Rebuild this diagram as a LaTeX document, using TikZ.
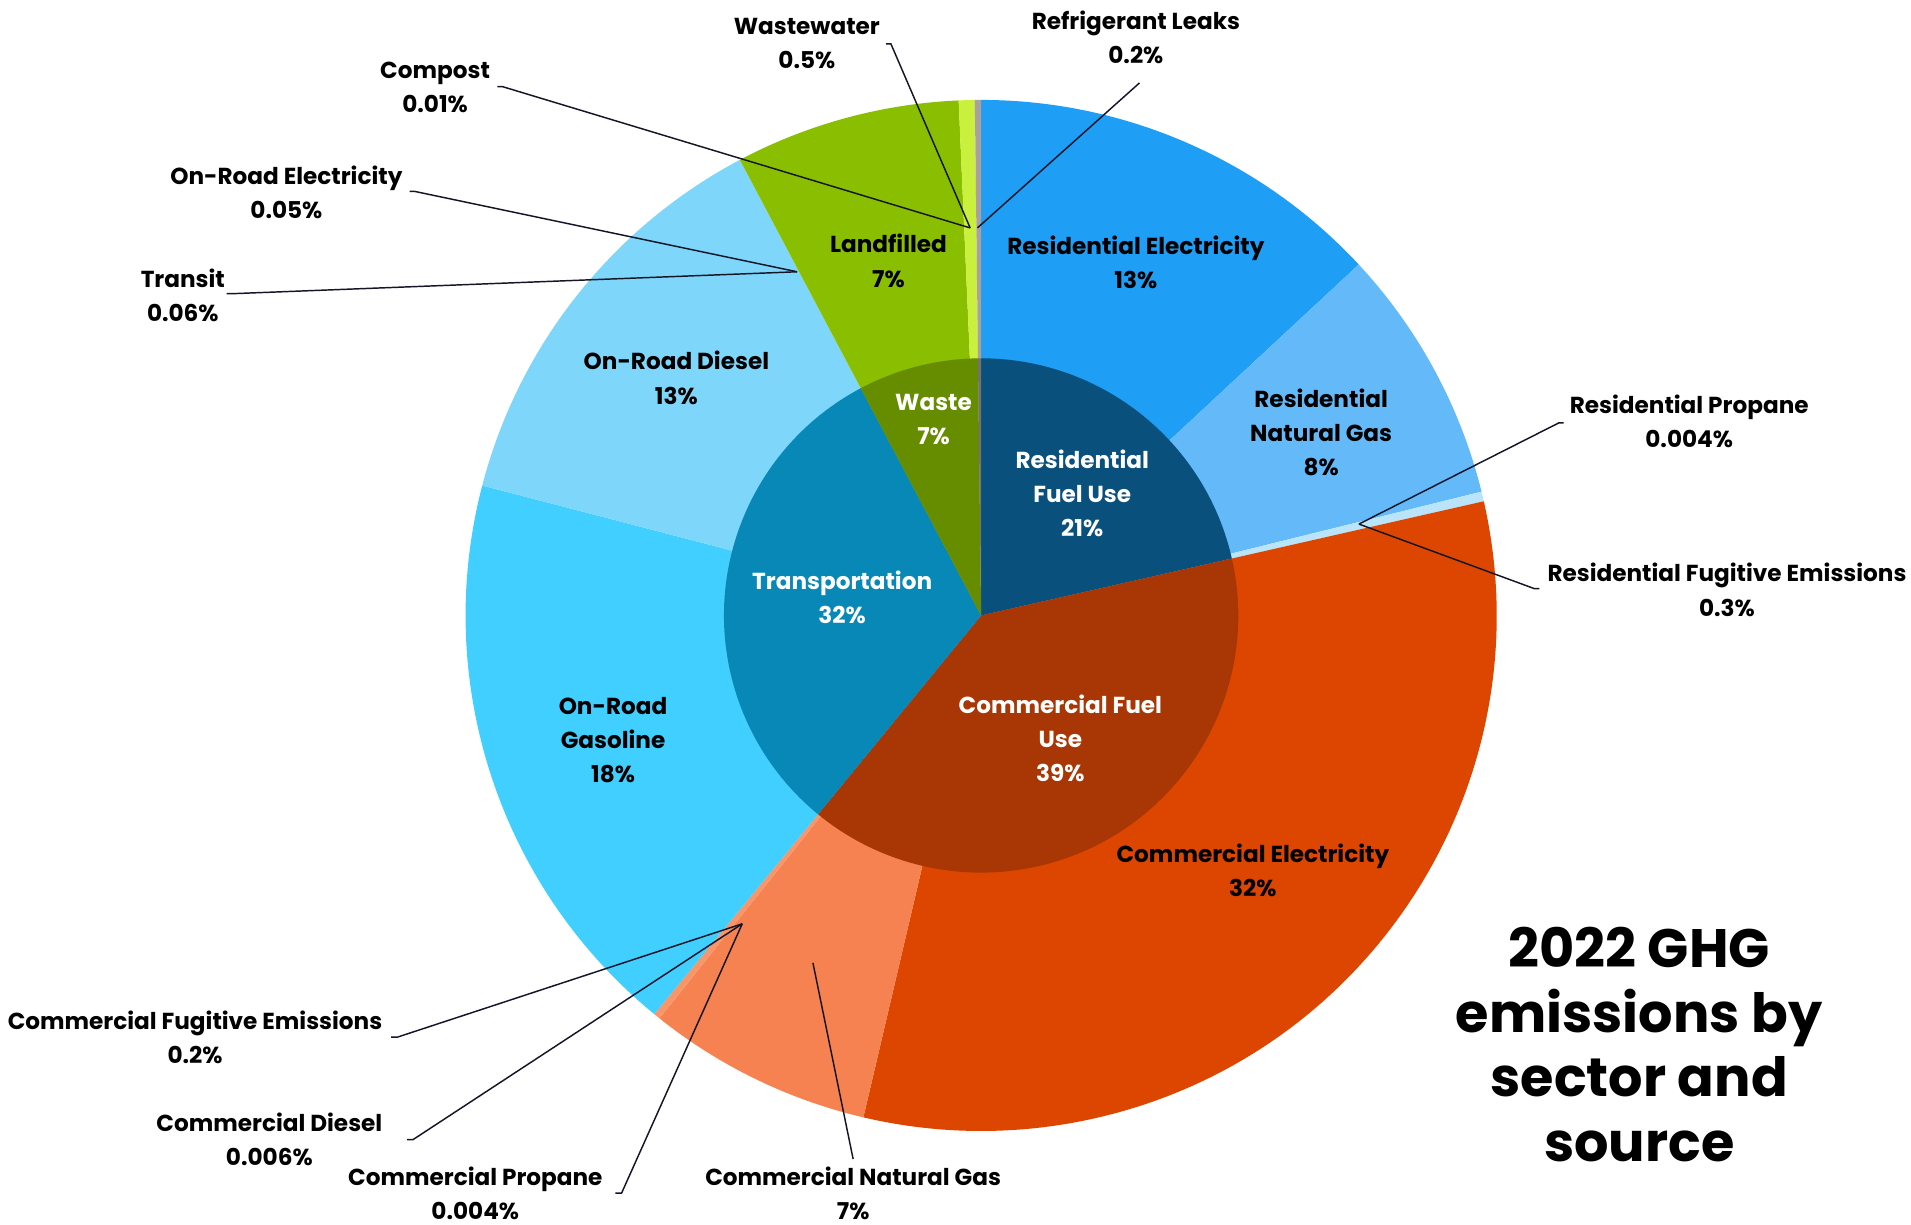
\documentclass[tikz,border=0pt]{standalone}
\usepackage{fontspec}
\setmainfont{Poppins}
\definecolor{resElec}{RGB}{30,158,245}
\definecolor{resNG}{RGB}{100,185,248}
\definecolor{resFug}{RGB}{185,228,250}
\definecolor{comElec}{RGB}{221,70,0}
\definecolor{comNG}{RGB}{245,130,80}
\definecolor{comFug}{RGB}{248,150,105}
\definecolor{gasol}{RGB}{64,207,255}
\definecolor{diesel}{RGB}{126,214,250}
\definecolor{landf}{RGB}{138,190,0}
\definecolor{wastew}{RGB}{200,240,60}
\definecolor{refrig}{RGB}{170,160,160}
\definecolor{resFuel}{RGB}{10,80,125}
\definecolor{comFuel}{RGB}{168,55,5}
\definecolor{transp}{RGB}{8,136,182}
\definecolor{wasteIn}{RGB}{102,140,0}
\definecolor{leadcol}{RGB}{20,22,40}
\newcommand{\pieslice}[4]{%
  \fill[#1] (0,0) -- ({90-#2}:#4) arc[start angle={90-#2}, end angle={90-#3}, radius=#4] -- cycle;}
\begin{document}
\begin{tikzpicture}[x=0.5pt,y=-0.5pt,
  lab/.style={font=\fontsize{9.5}{14}\selectfont\bfseries, align=center, text=black, inner sep=0pt},
  wlab/.style={lab, text=white},
  lead/.style={draw=leadcol, line width=0.6pt},
  ttl/.style={font=\fontsize{22.2}{26.5}\selectfont\bfseries, align=center, text=black, inner sep=0pt}]
\fill[white] (0,0) rectangle (1568,1005);
\useasboundingbox (0,0) rectangle (1568,1005);
% ---------- pie ----------
\begin{scope}[shift={(805,505)}, yscale=-1]
  % outer ring
  \pieslice{resElec}{0}{47.1}{423}
  \pieslice{resNG}{47.1}{76.1}{423}
  \pieslice{resFug}{76.1}{77.2}{423}
  \pieslice{comElec}{77.2}{193.2}{423}
  \pieslice{comNG}{193.2}{218.6}{423}
  \pieslice{comFug}{218.6}{219.35}{423}
  \pieslice{gasol}{219.35}{284.6}{423}
  \pieslice{diesel}{284.6}{332.1}{423}
  \pieslice{landf}{332.1}{357.5}{423}
  \pieslice{wastew}{357.5}{359.3}{423}
  \pieslice{refrig}{359.3}{360}{423}
  % inner ring
  \pieslice{resFuel}{0}{77.2}{211}
  \pieslice{comFuel}{77.2}{219.35}{211}
  \pieslice{transp}{219.35}{332.1}{211}
  \pieslice{wasteIn}{332.1}{359.3}{211}
  \pieslice{refrig!70!black}{359.3}{360}{211}
\end{scope}
% ---------- leader anchor coordinates ----------
\coordinate (pW) at (796,187);
\coordinate (pRf) at (802,187);
\coordinate (pT) at (654,223);
\coordinate (pR) at (1115,430);
\coordinate (pC) at (609,758);
\coordinate (pNG) at (667,790);
\coordinate (sWw) at (727,36);
\coordinate (sRf) at (935,68);
\coordinate (sCo) at (408,71);
\coordinate (sOE) at (336,157);
\coordinate (sTr) at (186,241);
\coordinate (sRP) at (1283,347);
\coordinate (sRF) at (1263,483);
\coordinate (sCF) at (321,851);
\coordinate (sCD) at (334,935);
\coordinate (sCP) at (505,979);
\coordinate (sNG) at (700,951);
% ---------- leaders ----------
\draw[lead] (sWw) -- ++(4,0) -- (pW);
\draw[lead] (sRf) -- (pRf);
\draw[lead] (sCo) -- ++(4,0) -- (pW);
\draw[lead] (sOE) -- ++(4,0) -- (pT);
\draw[lead] (sTr) -- ++(4,0) -- (pT);
\draw[lead] (sRP) -- ++(-4,0) -- (pR);
\draw[lead] (sRF) -- ++(-4,0) -- (pR);
\draw[lead] (sCF) -- ++(5,0) -- (pC);
\draw[lead] (sCD) -- ++(5,0) -- (pC);
\draw[lead] (sCP) -- ++(5,0) -- (pC);
\draw[lead] (sNG) -- (pNG);
% ---------- outer labels ----------
\node[lab] (lWw) at (662,36) {Wastewater\\0.5\%};
\node[lab] (lRf) at (932,31) {Refrigerant Leaks\\0.2\%};
\node[lab] (lCo) at (357,72) {Compost\\0.01\%};
\node[lab] (lOE) at (235,158) {On-Road Electricity\\0.05\%};
\node[lab] (lTr) at (150,242) {Transit\\0.06\%};
\node[lab] (lRP) at (1386,346) {Residential Propane\\0.004\%};
\node[lab] (lRF) at (1417,484) {Residential Fugitive Emissions\\0.3\%};
\node[lab] (lCF) at (160,851) {Commercial Fugitive Emissions\\0.2\%};
\node[lab] (lCD) at (221,935) {Commercial Diesel\\0.006\%};
\node[lab] (lCP) at (390,979) {Commercial Propane\\0.004\%};
\node[lab] (lNG) at (700,979) {Commercial Natural Gas\\7\%};
% ---------- slice labels ----------
\node[lab] (lRE) at (932,215) {Residential Electricity\\13\%};
\node[lab] (lRN) at (1084,355) {Residential\\Natural Gas\\8\%};
\node[lab] (lLf) at (729,214) {Landfilled\\7\%};
\node[lab] (lDi) at (555,310) {On-Road Diesel\\13\%};
\node[lab] (lGa) at (503,607) {On-Road\\Gasoline\\18\%};
\node[lab] (lCE) at (1028,714) {Commercial Electricity\\32\%};
\node[wlab] (iWa) at (766,344) {Waste\\7\%};
\node[wlab] (iRe) at (888,405) {Residential\\Fuel Use\\21\%};
\node[wlab] (iTr) at (691,490) {Transportation\\32\%};
\node[wlab] (iCo) at (870,606) {Commercial Fuel\\Use\\39\%};
% ---------- title ----------
\node[ttl] (title) at (1345,857) {2022 GHG\\emissions by\\sector and\\source};
\end{tikzpicture}
\end{document}
